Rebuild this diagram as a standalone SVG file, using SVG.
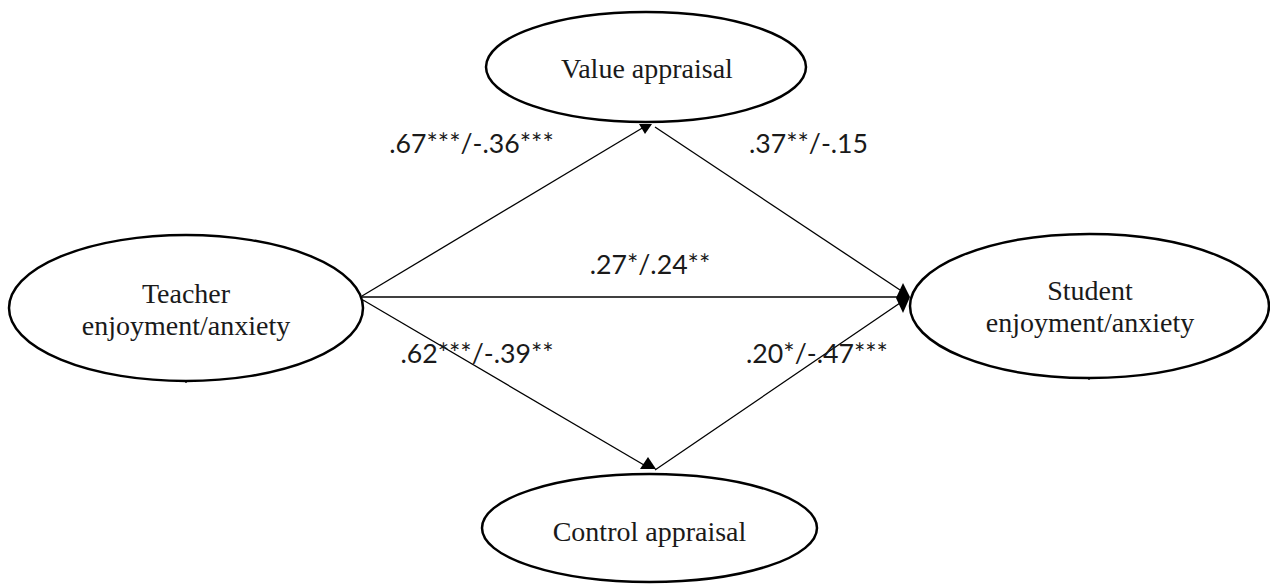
<svg xmlns="http://www.w3.org/2000/svg" width="1270" height="584" viewBox="0 0 1270 584">
<style>
.node{fill:#fff;stroke:#000;stroke-width:2.5}
.nt{font-family:"Liberation Serif","Times New Roman",serif;font-size:28px;fill:#1a1a1a;text-anchor:middle}
.lb{font-family:Lato,"Liberation Sans",sans-serif;font-size:26.7px;fill:#1a1a1a;text-anchor:middle}
.ln{stroke:#000;stroke-width:1.3;fill:none}
.hd{fill:#000}
</style>
<rect width="1270" height="584" fill="#fff"/>
<g id="connectors">
<line class="ln" x1="362" y1="296" x2="644" y2="127"/>
<line class="ln" x1="655" y1="127" x2="900" y2="290"/>
<line class="ln" x1="362" y1="297" x2="898" y2="297"/>
<line class="ln" x1="363" y1="300" x2="644" y2="465"/>
<line class="ln" x1="655" y1="470" x2="900" y2="303"/>
<polygon class="hd" points="639,124 652,124 645,134"/>
<polygon class="hd" points="640,469 656,469 648,457"/>
<polygon class="hd" points="903,283 910,297 903,313 896,298"/>
<line class="ln" x1="186" y1="380" x2="186" y2="383"/>
<line class="ln" x1="1089" y1="377" x2="1089" y2="380"/>
</g>
<g id="value">
<ellipse class="node" cx="646" cy="67" rx="160" ry="55"/>
<text class="nt" x="647" y="78">Value appraisal</text>
</g>
<g id="control">
<ellipse class="node" cx="649.5" cy="528" rx="167.5" ry="54"/>
<text class="nt" x="649.5" y="541">Control appraisal</text>
</g>
<g id="teacher">
<ellipse class="node" cx="186" cy="308" rx="177" ry="73"/>
<text class="nt" x="186" y="303">Teacher</text>
<text class="nt" x="186" y="335">enjoyment/anxiety</text>
</g>
<g id="student">
<ellipse class="node" cx="1089.5" cy="306" rx="179.5" ry="72"/>
<text class="nt" x="1090" y="300">Student</text>
<text class="nt" x="1090" y="332">enjoyment/anxiety</text>
</g>
<g id="labels">
<text class="lb" x="471.5" y="153">.67***/-.36***</text>
<text class="lb" x="808.5" y="153">.37**/-.15</text>
<text class="lb" x="650" y="274">.27*/.24**</text>
<text class="lb" x="477" y="363">.62***/-.39**</text>
<text class="lb" x="817" y="363">.20*/-.47***</text>
</g>
</svg>
